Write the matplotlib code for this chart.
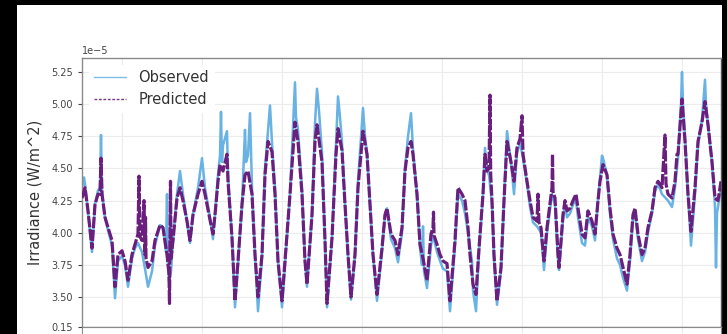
import numpy as np
import matplotlib
matplotlib.use("Agg")
import matplotlib.pyplot as plt
from matplotlib.patches import Rectangle

# observed irradiance (x = sample index, values in units of 1e-5 W/m^2)
obs_x = [0, 2, 3, 6, 10, 13, 16, 18, 19, 20, 23, 26, 30, 33, 36, 40, 43, 46, 50, 53,
         56, 60, 63, 66, 70, 73, 78, 81, 84, 85, 86, 87, 89, 91, 95, 98, 101, 105, 108, 111,
         116, 120, 123, 128, 131, 133, 136, 138, 139, 140, 141, 145, 146, 150, 153, 156, 160, 163, 164, 166,
         168, 170, 173, 176, 180, 183, 186, 188, 190, 193, 196, 200, 203, 208, 213, 214, 216, 220, 223, 225,
         230, 233, 235, 237, 240, 243, 245, 250, 254, 256, 258, 260, 263, 266, 269, 273, 276, 280, 281, 283,
         285, 288, 291, 295, 300, 303, 305, 309, 313, 316, 320, 323, 326, 329, 331, 335, 338, 340, 341, 342,
         345, 349, 351, 355, 358, 361, 365, 368, 373, 376, 380, 383, 386, 390, 391, 394, 397, 401, 403, 405,
         407, 410, 412, 415, 419, 422, 425, 429, 432, 435, 438, 441, 445, 448, 451, 455, 459, 462, 465, 470,
         473, 476, 477, 481, 483, 485, 488, 491, 494, 496, 500, 503, 506, 510, 513, 516, 520, 521, 525, 528,
         531, 535, 538, 541, 545, 548, 551, 553, 556, 560, 563, 566, 570, 573, 576, 580, 586, 590, 593, 596,
         599, 600, 601, 603, 606, 609, 613, 616, 620, 623, 624, 626, 630, 633, 634, 635, 636, 639]
obs_y = [4.35, 4.43, 4.38, 4.17, 3.85, 4.22, 4.33, 4.35, 4.76, 4.32, 4.12, 4.02, 3.90, 3.49, 3.78, 3.82, 3.75, 3.58, 3.80, 3.88,
         3.92, 3.85, 3.72, 3.58, 3.70, 3.90, 4.06, 4.04, 3.85, 4.30, 3.75, 3.62, 3.70, 3.94, 4.30, 4.48, 4.30, 4.09, 3.92, 4.14,
         4.35, 4.58, 4.35, 4.12, 3.95, 4.14, 4.45, 4.60, 4.94, 4.55, 4.68, 4.79, 4.45, 3.96, 3.42, 3.75, 4.22, 4.80, 4.55, 4.60,
         4.93, 4.35, 3.83, 3.39, 3.80, 4.50, 4.80, 4.99, 4.70, 4.35, 3.78, 3.42, 3.75, 4.30, 5.17, 4.90, 4.80, 4.35, 3.78, 3.58,
         4.14, 4.85, 5.12, 4.95, 4.62, 3.94, 3.42, 3.96, 4.70, 5.06, 4.90, 4.70, 4.22, 3.83, 3.48, 3.83, 4.40, 4.85, 4.97, 4.75,
         4.62, 4.22, 3.83, 3.47, 3.85, 4.14, 4.19, 3.95, 3.88, 3.77, 4.00, 4.50, 4.75, 4.93, 4.65, 4.30, 3.88, 3.75, 4.05, 3.70,
         3.57, 3.90, 3.98, 3.85, 3.78, 3.72, 3.70, 3.39, 3.90, 4.30, 4.25, 4.15, 4.00, 3.78, 3.55, 3.39, 3.85, 4.30, 4.66, 4.48,
         4.45, 4.22, 3.80, 3.44, 3.70, 4.25, 4.79, 4.55, 4.30, 4.62, 4.70, 4.58, 4.38, 4.20, 4.08, 4.05, 4.00, 3.71, 4.00, 4.30,
         4.22, 3.80, 3.71, 4.10, 4.22, 4.12, 4.15, 4.22, 4.25, 4.12, 3.92, 3.90, 4.12, 4.05, 3.94, 4.25, 4.60, 4.58, 4.45, 4.15,
         3.95, 3.80, 3.75, 3.65, 3.55, 3.78, 4.12, 4.15, 3.95, 3.78, 3.85, 4.00, 4.15, 4.32, 4.38, 4.30, 4.25, 4.20, 4.35, 4.58,
         5.00, 5.25, 5.00, 4.75, 4.30, 3.90, 4.30, 4.68, 4.88, 5.19, 5.00, 4.84, 4.55, 4.20, 3.73, 4.15, 4.20, 4.35]

# predicted irradiance
pred_x = [0, 3, 6, 10, 13, 16, 18, 19, 20, 23, 26, 30, 33, 36, 40, 43, 46, 50, 53, 56,
          57, 58, 60, 62, 63, 63.5, 64, 66, 70, 73, 78, 81, 85, 87, 87.5, 88.5, 89, 91, 95, 98,
          101, 105, 108, 111, 116, 120, 123, 128, 131, 133, 136, 138, 141, 145, 146, 150, 153, 156, 160, 163,
          166, 170, 173, 176, 180, 183, 186, 190, 193, 196, 200, 203, 208, 213, 216, 220, 223, 225, 230, 233,
          235, 240, 243, 245, 250, 254, 256, 260, 263, 266, 269, 273, 276, 280, 281, 285, 288, 291, 295, 300,
          303, 305, 309, 313, 316, 320, 323, 326, 329, 331, 335, 338, 341, 345, 349, 351, 351.5, 352, 355, 358,
          361, 365, 368, 373, 376, 380, 383, 386, 388, 391, 394, 397, 401, 403, 405, 407, 408, 408.7, 410, 412,
          415, 419, 422, 425, 429, 432, 435, 438, 440, 441, 445, 448, 451, 455, 456, 457, 459, 462, 465, 470,
          470.5, 471, 473, 476, 477, 481, 483, 485, 488, 491, 494, 496, 500, 503, 506, 510, 513, 516, 518, 521,
          525, 528, 531, 535, 538, 541, 545, 548, 551, 553, 556, 560, 563, 566, 570, 573, 576, 580, 583, 584,
          586, 590, 593, 595, 596, 600, 603, 606, 609, 613, 616, 620, 623, 626, 630, 633, 636, 639]
pred_y = [4.27, 4.35, 4.17, 3.88, 4.22, 4.30, 4.30, 4.58, 4.30, 4.12, 4.04, 3.94, 3.58, 3.83, 3.86, 3.78, 3.63, 3.83, 3.91, 3.99,
          4.44, 3.97, 3.94, 4.25, 3.83, 4.12, 3.80, 3.73, 3.78, 3.94, 4.06, 4.04, 3.83, 3.68, 3.45, 4.40, 3.80, 3.94, 4.27, 4.35,
          4.25, 4.09, 3.94, 4.14, 4.30, 4.40, 4.30, 4.10, 3.99, 4.14, 4.40, 4.53, 4.48, 4.61, 4.40, 3.96, 3.47, 3.78, 4.22, 4.45,
          4.48, 4.30, 3.83, 3.50, 3.83, 4.45, 4.71, 4.63, 4.30, 3.78, 3.47, 3.78, 4.30, 4.86, 4.71, 4.30, 3.78, 3.60, 4.14, 4.71,
          4.84, 4.55, 3.94, 3.45, 3.96, 4.61, 4.81, 4.64, 4.22, 3.83, 3.50, 3.83, 4.35, 4.71, 4.79, 4.61, 4.22, 3.83, 3.52, 3.88,
          4.14, 4.19, 3.99, 3.94, 3.83, 4.04, 4.48, 4.66, 4.71, 4.61, 4.30, 3.91, 3.80, 3.63, 3.99, 4.04, 4.16, 3.98, 3.91, 3.83,
          3.78, 3.76, 3.47, 3.94, 4.35, 4.30, 4.25, 4.04, 3.83, 3.60, 3.52, 3.88, 4.30, 4.61, 4.48, 4.50, 5.07, 4.45, 4.25, 3.83,
          3.47, 3.73, 4.25, 4.71, 4.55, 4.40, 4.66, 4.73, 4.91, 4.61, 4.40, 4.25, 4.12, 4.09, 4.30, 4.08, 4.04, 3.78, 4.04, 4.35,
          4.61, 4.32, 4.27, 3.83, 3.73, 4.14, 4.25, 4.17, 4.19, 4.25, 4.30, 4.19, 3.99, 3.96, 4.17, 4.09, 3.99, 4.25, 4.40, 4.53,
          4.45, 4.19, 3.99, 3.88, 3.83, 3.73, 3.60, 3.83, 4.14, 4.19, 3.99, 3.83, 3.88, 4.04, 4.17, 4.35, 4.40, 4.35, 4.76, 4.38,
          4.30, 4.27, 4.40, 4.61, 4.61, 5.04, 4.71, 4.30, 4.01, 4.35, 4.71, 4.86, 5.02, 4.84, 4.55, 4.27, 4.25, 4.40]

y_ticks = [3.50, 3.75, 4.00, 4.25, 4.50, 4.75, 5.00, 5.25]
x_grid = [40, 120, 200, 280, 360, 440, 520, 600]

W, H = 727, 334
fig = plt.figure(figsize=(W / 100, H / 100), dpi=100)
fig.patch.set_facecolor("black")
fig.patches.append(Rectangle((17 / W, 0), (722 - 17) / W, 1 - 5 / H,
                             transform=fig.transFigure, facecolor="white",
                             edgecolor="none", zorder=-1))

ax = fig.add_axes([82 / W, 1 - 327 / H, 639 / W, (327 - 58) / H])
ax.plot(np.array(obs_x), np.array(obs_y) * 1e-5, color="#68b3e3", lw=1.8,
        label="Observed", zorder=2)
ax.plot(np.array(pred_x), np.array(pred_y) * 1e-5, color="#6a1f7f", lw=2.3,
        ls=(0, (3.5, 0.6)), label="Predicted", zorder=3)

ax.set_xlim(0, 639)
ax.set_ylim(3.267e-5, 5.359e-5)
ax.set_yticks(np.array(y_ticks) * 1e-5)
ax.set_xticks(x_grid)
ax.tick_params(axis="x", length=0, labelbottom=False)
ax.tick_params(axis="y", labelsize=7, colors="#444444", length=3, width=0.8)
ax.yaxis.get_offset_text().set_fontsize(7)
ax.yaxis.get_offset_text().set_color("#444444")
ax.grid(True, color="#ececec", lw=0.8)
for s in ax.spines.values():
    s.set_color("#8a8a8a")
    s.set_linewidth(1.0)
ax.spines["right"].set_color("#555555")
ax.set_ylabel("Irradiance (W/m^2)", fontsize=10.5, color="#333333", labelpad=6)

leg = ax.legend(loc="upper left", fontsize=10.5, frameon=True, framealpha=1.0,
                edgecolor="none", facecolor="white", handlelength=2.2,
                borderaxespad=0.45, labelspacing=0.45, labelcolor="#333333")
for h, c in zip(leg.get_lines(), ["#7cbde8", "#7a3a8c"]):
    h.set_linewidth(1.0)
    h.set_color(c)
leg.get_lines()[1].set_linestyle((0, (2, 1.2)))

# the lower panel that is cut off by the screenshot
ax2 = fig.add_axes([82 / W, 1 - 327 / H - 0.3, 639 / W, 0.3])
ax2.set_xlim(0, 639)
ax2.set_ylim(0.0, 0.15)
ax2.set_yticks([0.15])
ax2.set_xticks(x_grid)
ax2.tick_params(axis="x", length=0, labelbottom=False)
ax2.tick_params(axis="y", labelsize=7, colors="#444444", length=3, width=0.8)
ax2.grid(True, color="#ececec", lw=0.8)
for s in ax2.spines.values():
    s.set_color("#8a8a8a")

fig.savefig("out.png", dpi=100, facecolor=fig.get_facecolor())
